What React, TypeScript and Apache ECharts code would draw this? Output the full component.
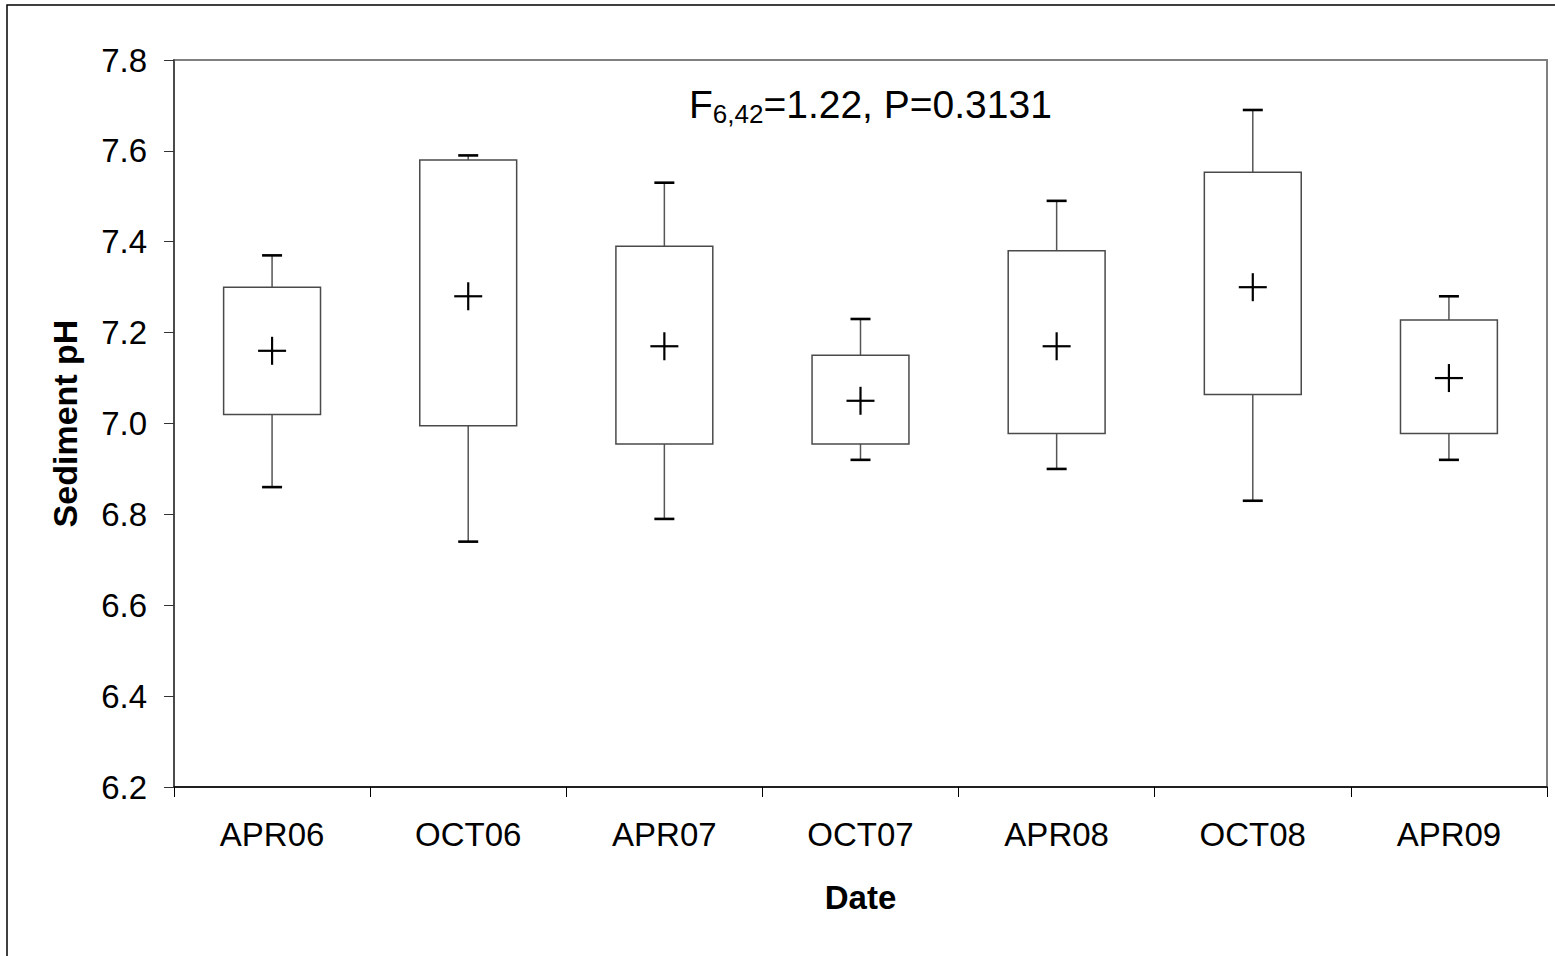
import React, { useEffect, useRef } from "react";
import * as echarts from "echarts";

// Sampling dates and sediment pH summaries per date
const categories = ["APR06", "OCT06", "APR07", "OCT07", "APR08", "OCT08", "APR09"];
const whiskerLow = [6.86, 6.74, 6.79, 6.92, 6.9, 6.83, 6.92];
const quartile1 = [7.02, 6.995, 6.955, 6.955, 6.978, 7.064, 6.978];
const quartile3 = [7.3, 7.58, 7.39, 7.15, 7.38, 7.553, 7.228];
const whiskerHigh = [7.37, 7.59, 7.53, 7.23, 7.49, 7.69, 7.28];
const means = [7.16, 7.28, 7.17, 7.05, 7.17, 7.3, 7.1];

const yMin = 6.2;
const yMax = 7.8;
const yStep = 0.2;

const FONT = '"Liberation Sans", Arial, sans-serif';

export default function App() {
  const ref = useRef<HTMLDivElement | null>(null);

  useEffect(() => {
    if (!ref.current) return;
    const chart = echarts.init(ref.current, undefined, { renderer: "svg" });

    const rows = categories.map((_, i) => [
      i,
      whiskerLow[i],
      quartile1[i],
      quartile3[i],
      whiskerHigh[i],
      means[i],
    ]);

    const renderItem = (params: any, api: any) => {
      const idx = api.value(0);
      const lo = api.coord([idx, api.value(1)]);
      const q1 = api.coord([idx, api.value(2)]);
      const q3 = api.coord([idx, api.value(3)]);
      const hi = api.coord([idx, api.value(4)]);
      const mean = api.coord([idx, api.value(5)]);
      const band = api.size([1, 0])[0];
      const cx = q1[0];
      const half = band * 0.247;
      const cap = 10;
      const cross = 14;
      const whiskerStyle = { stroke: "#555555", lineWidth: 1.5 };
      const capStyle = { stroke: "#000000", lineWidth: 2.6 };
      const crossStyle = { stroke: "#000000", lineWidth: 2.2 };
      return {
        type: "group",
        children: [
          { type: "line", shape: { x1: cx, y1: q3[1], x2: cx, y2: hi[1] }, style: whiskerStyle },
          { type: "line", shape: { x1: cx, y1: q1[1], x2: cx, y2: lo[1] }, style: whiskerStyle },
          {
            type: "rect",
            shape: { x: cx - half, y: q3[1], width: half * 2, height: q1[1] - q3[1] },
            style: { fill: "#ffffff", stroke: "#4a4a4a", lineWidth: 1.5 },
          },
          { type: "line", shape: { x1: cx - cap, y1: hi[1], x2: cx + cap, y2: hi[1] }, style: capStyle },
          { type: "line", shape: { x1: cx - cap, y1: lo[1], x2: cx + cap, y2: lo[1] }, style: capStyle },
          { type: "line", shape: { x1: cx - cross, y1: mean[1], x2: cx + cross, y2: mean[1] }, style: crossStyle },
          { type: "line", shape: { x1: cx, y1: mean[1] - cross, x2: cx, y2: mean[1] + cross }, style: crossStyle },
        ],
      };
    };

    chart.setOption({
      animation: false,
      backgroundColor: "#ffffff",
      textStyle: { fontFamily: FONT },
      grid: {
        left: 174,
        top: 60,
        right: 8,
        bottom: 169,
        show: true,
        borderColor: "#808080",
        borderWidth: 2,
        backgroundColor: "transparent",
      },
      xAxis: {
        type: "category",
        data: categories,
        boundaryGap: true,
        name: "Date",
        nameLocation: "middle",
        nameGap: 94,
        nameTextStyle: { fontFamily: FONT, fontSize: 33, fontWeight: "bold", color: "#000" },
        axisLine: { lineStyle: { color: "#000000", width: 1.5 } },
        axisTick: { show: true, length: 10, inside: false, lineStyle: { color: "#000", width: 1 } },
        axisLabel: { fontFamily: FONT, fontSize: 33, color: "#000", margin: 31 },
        splitLine: { show: false },
      },
      yAxis: {
        type: "value",
        min: yMin,
        max: yMax,
        interval: yStep,
        name: "Sediment pH",
        nameLocation: "middle",
        nameRotate: 90,
        nameGap: 92,
        nameTextStyle: { fontFamily: FONT, fontSize: 34, fontWeight: "bold", color: "#000" },
        axisLine: { show: true, lineStyle: { color: "#3a3a3a", width: 1.5 } },
        axisTick: { show: true, length: 10, inside: false, lineStyle: { color: "#333", width: 1 } },
        axisLabel: {
          fontFamily: FONT,
          fontSize: 33,
          color: "#000",
          margin: 27,
          formatter: (v: number) => v.toFixed(1),
        },
        splitLine: { show: false },
      },
      graphic: [
        {
          type: "rect",
          silent: true,
          z: -10,
          shape: { x: 7, y: 5, width: 1700, height: 1100 },
          style: { fill: "none", stroke: "#000000", lineWidth: 1.5 },
        },
        {
          type: "text",
          silent: true,
          left: 689,
          top: 85,
          style: {
            text: "{m|F}{s|6,42}{m|=1.22, P=0.3131}",
            fill: "#000",
            rich: {
              m: { fontFamily: FONT, fontSize: 39, lineHeight: 45, fill: "#000" },
              s: { fontFamily: FONT, fontSize: 26, lineHeight: 26, verticalAlign: "bottom", fill: "#000" },
            },
          },
        },
      ],
      series: [
        {
          type: "custom",
          renderItem,
          data: rows,
          encode: { x: 0, y: [1, 2, 3, 4, 5] },
          clip: false,
        },
      ],
    });

    return () => chart.dispose();
  }, []);

  return (
    <div
      ref={ref}
      style={{ position: "absolute", left: 0, top: 0, width: 1555, height: 956, background: "#fff" }}
    />
  );
}
